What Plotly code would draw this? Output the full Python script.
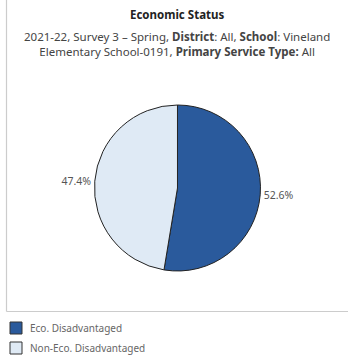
import plotly.graph_objects as go

# Share of students by economic status
categories = ["Eco. Disadvantaged", "Non-Eco. Disadvantaged"]
shares = [52.6, 47.4]
colors = ["#2a5a9c", "#dfeaf5"]

title = "<b>Economic Status</b>"
subtitle = ("2021-22, Survey 3 – Spring, <b>District</b>: All, <b>School</b>: Vineland<br>"
            "Elementary School-0191, <b>Primary Service Type:</b> All")

W, H = 348, 364
FONT = "Noto Sans, Open Sans, sans-serif"

fig = go.Figure()
fig.add_trace(go.Pie(
    labels=categories,
    values=shares,
    sort=False,
    direction="clockwise",
    rotation=0,
    marker=dict(colors=colors, line=dict(color="#222222", width=1)),
    texttemplate="%{value:.1f}%",
    textposition="outside",
    textfont=dict(family=FONT, size=10.5, color="#555555"),
    outsidetextfont=dict(family=FONT, size=10.5, color="#555555"),
    hoverinfo="label+percent",
    showlegend=False,
    automargin=False,
    domain=dict(x=[0.05, 0.97], y=[(H - 271) / H, (H - 105) / H]),
))

shapes = [
    # panel frame: left and bottom edges
    dict(type="line", xref="paper", yref="paper", x0=6.5 / W, x1=6.5 / W,
         y0=1, y1=(H - 311.5) / H, line=dict(color="#cccccc", width=1.2)),
    dict(type="line", xref="paper", yref="paper", x0=6.5 / W, x1=1,
         y0=(H - 311.5) / H, y1=(H - 311.5) / H, line=dict(color="#cccccc", width=1.2)),
]
annotations = [
    dict(text=title, x=177 / W, y=(H - 15) / H, xref="paper", yref="paper",
         showarrow=False, xanchor="center", yanchor="middle",
         font=dict(family=FONT, size=11.5, color="#222222")),
    dict(text=subtitle, x=177 / W, y=(H - 44) / H, xref="paper", yref="paper",
         showarrow=False, xanchor="center", yanchor="middle", align="center",
         font=dict(family=FONT, size=11.5, color="#444444")),
]

# legend swatches and labels
for i, (name, col) in enumerate(zip(categories, colors)):
    yc = 328 + i * 20
    shapes.append(dict(type="rect", xref="paper", yref="paper",
                       x0=10 / W, x1=22 / W, y0=(H - yc - 6) / H, y1=(H - yc + 6) / H,
                       fillcolor=col, line=dict(color="#333333", width=1)))
    annotations.append(dict(text=name, x=28 / W, y=(H - yc) / H, xref="paper", yref="paper",
                            showarrow=False, xanchor="left", yanchor="middle",
                            font=dict(family=FONT, size=10, color="#666666")))

fig.update_layout(
    width=W, height=H,
    autosize=False,
    showlegend=False,
    margin=dict(l=0, r=0, t=0, b=0, pad=0),
    paper_bgcolor="white", plot_bgcolor="white",
    shapes=shapes, annotations=annotations,
)

fig.write_html("out.html")
